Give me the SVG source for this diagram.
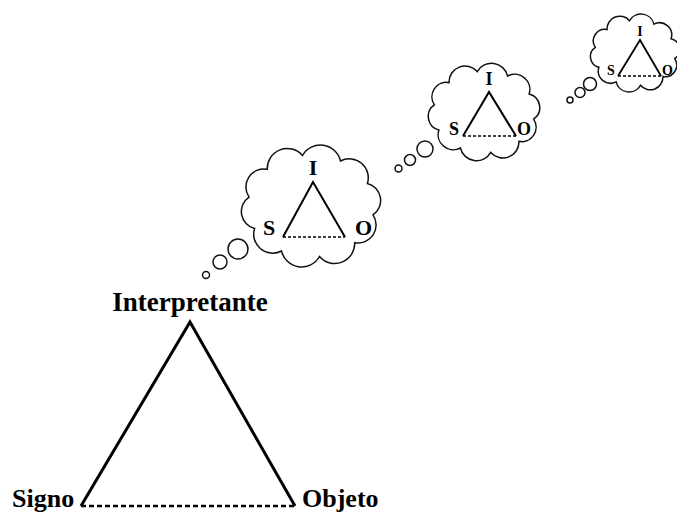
<svg xmlns="http://www.w3.org/2000/svg" xmlns:xlink="http://www.w3.org/1999/xlink" width="677" height="512" viewBox="0 0 677 512">
<style>
.cloud{fill:#fff;stroke:#111;stroke-width:1.5;vector-effect:non-scaling-stroke}
.bub{fill:#fff;stroke:#111;stroke-width:1.5}
.side{fill:none;stroke:#000;stroke-width:2;stroke-linejoin:miter}
.dash{fill:none;stroke:#000;stroke-width:1.6;stroke-dasharray:3 2}
.lbl{font-family:"Liberation Serif","Times New Roman",serif;font-weight:bold;fill:#000}
</style>
<defs>
<path id="cloudShape" class="cloud" d="M62,8.9 A18,18 0 0 1 43.7,36.7 A20,20 0 0 1 8.5,50.5 A20.6,20.6 0 0 1 -29.5,45 A19,19 0 0 1 -56.4,22.4 A17.4,17.4 0 0 1 -62,-8.9 A18,18 0 0 1 -43.7,-36.7 A20,20 0 0 1 -8.5,-50.5 A20.6,20.6 0 0 1 29.5,-45 A19,19 0 0 1 56.4,-22.4 A17.4,17.4 0 0 1 62,8.9 Z"/>
</defs>
<rect width="677" height="512" fill="#fff"/>
<g id="thought1">
<circle class="bub" cx="206" cy="275" r="3.5"/>
<circle class="bub" cx="220" cy="262" r="7"/>
<circle class="bub" cx="238" cy="249" r="10"/>
<use xlink:href="#cloudShape" href="#cloudShape" transform="translate(311,206)"/>
<path class="side" d="M283,237 L313,182 L345,237"/>
<line class="dash" x1="283" y1="237" x2="345" y2="237"/>
<text class="lbl" x="313" y="175" font-size="22" text-anchor="middle">I</text>
<text class="lbl" x="263" y="235" font-size="22">S</text>
<text class="lbl" x="355" y="235" font-size="22">O</text>
</g>
<g id="thought2">
<circle class="bub" cx="398.5" cy="168.5" r="3.5"/>
<circle class="bub" cx="410" cy="160" r="5.5"/>
<circle class="bub" cx="425" cy="149" r="8"/>
<use xlink:href="#cloudShape" href="#cloudShape" transform="translate(484,112) scale(0.8)"/>
<path class="side" d="M463,136 L489,92 L516,136"/>
<line class="dash" x1="463" y1="136" x2="516" y2="136"/>
<text class="lbl" x="489" y="85" font-size="18" text-anchor="middle">I</text>
<text class="lbl" x="449" y="135" font-size="18">S</text>
<text class="lbl" x="517" y="135" font-size="18">O</text>
</g>
<g id="thought3">
<circle class="bub" cx="570" cy="100" r="3"/>
<circle class="bub" cx="580" cy="92.5" r="5"/>
<circle class="bub" cx="590" cy="84" r="6.5"/>
<use xlink:href="#cloudShape" href="#cloudShape" transform="translate(635,53) scale(0.64)"/>
<path class="side" d="M618,76 L640,40 L661,76" style="stroke-width:1.8"/>
<line class="dash" x1="618" y1="76" x2="661" y2="76"/>
<text class="lbl" x="640" y="36" font-size="14" text-anchor="middle">I</text>
<text class="lbl" x="607" y="75" font-size="14">S</text>
<text class="lbl" x="662" y="75" font-size="14">O</text>
</g>
<g id="interpretante">
<text class="lbl" x="190" y="311" font-size="27" text-anchor="middle">Interpretante</text>
</g>
<g id="signo">
<text class="lbl" x="12" y="507" font-size="26">Signo</text>
</g>
<g id="objeto">
<text class="lbl" x="302" y="507" font-size="26">Objeto</text>
</g>
<g id="connectors">
<path d="M81,506 L190,322 L295,506" fill="none" stroke="#000" stroke-width="3" stroke-linejoin="miter"/>
<line x1="81" y1="506" x2="295" y2="506" stroke="#000" stroke-width="2.5" stroke-dasharray="5 3"/>
</g>
</svg>
